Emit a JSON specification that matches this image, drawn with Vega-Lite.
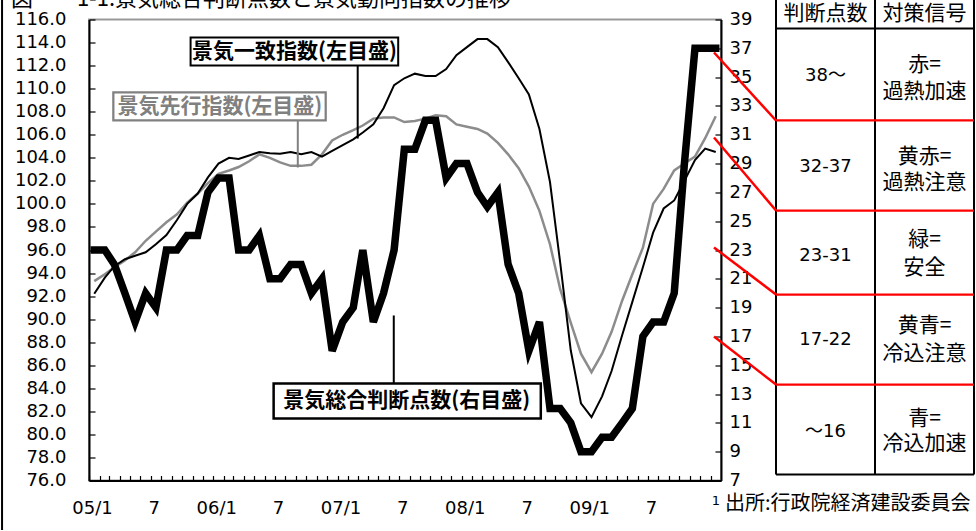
{
  "$schema": "https://vega.github.io/schema/vega-lite/v6.json",
  "background": "white",
  "padding": {"left": 0, "top": -29.5, "right": 0, "bottom": 0},
  "bounds": "flush",
  "spacing": 55,
  "config": {"view": {"stroke": null}, "axis": {"grid": false}},
  "resolve": {"scale": {"x": "independent", "y": "independent", "stroke": "independent", "strokeWidth": "independent", "fill": "independent"}},
  "datasets": {
    "series": [
      {"date": "2005/01/01", "coincident": 92.2, "leading": 93.3, "score": 23},
      {"date": "2005/02/01", "coincident": 93.6, "leading": 93.9, "score": 23},
      {"date": "2005/03/01", "coincident": 94.6, "leading": 94.5, "score": 22},
      {"date": "2005/04/01", "coincident": 95.2, "leading": 95.1, "score": 20},
      {"date": "2005/05/01", "coincident": 95.5, "leading": 95.8, "score": 18},
      {"date": "2005/06/01", "coincident": 95.8, "leading": 96.8, "score": 20},
      {"date": "2005/07/01", "coincident": 96.5, "leading": 97.6, "score": 19},
      {"date": "2005/08/01", "coincident": 97.3, "leading": 98.4, "score": 23},
      {"date": "2005/09/01", "coincident": 98.6, "leading": 99.1, "score": 23},
      {"date": "2005/10/01", "coincident": 100.0, "leading": 100.1, "score": 24},
      {"date": "2005/11/01", "coincident": 100.9, "leading": 100.9, "score": 24},
      {"date": "2005/12/01", "coincident": 102.3, "leading": 101.8, "score": 27},
      {"date": "2006/01/01", "coincident": 103.5, "leading": 102.6, "score": 28},
      {"date": "2006/02/01", "coincident": 104.0, "leading": 102.9, "score": 28},
      {"date": "2006/03/01", "coincident": 103.9, "leading": 103.2, "score": 23},
      {"date": "2006/04/01", "coincident": 104.2, "leading": 103.7, "score": 23},
      {"date": "2006/05/01", "coincident": 104.5, "leading": 104.3, "score": 24},
      {"date": "2006/06/01", "coincident": 104.4, "leading": 104.0, "score": 21},
      {"date": "2006/07/01", "coincident": 104.35, "leading": 103.6, "score": 21},
      {"date": "2006/08/01", "coincident": 104.5, "leading": 103.3, "score": 22},
      {"date": "2006/09/01", "coincident": 104.3, "leading": 103.3, "score": 22},
      {"date": "2006/10/01", "coincident": 104.5, "leading": 103.4, "score": 20},
      {"date": "2006/11/01", "coincident": 104.1, "leading": 104.3, "score": 21},
      {"date": "2006/12/01", "coincident": 104.6, "leading": 105.5, "score": 16},
      {"date": "2007/01/01", "coincident": 105.1, "leading": 106.0, "score": 18},
      {"date": "2007/02/01", "coincident": 105.6, "leading": 106.4, "score": 19},
      {"date": "2007/03/01", "coincident": 106.2, "leading": 106.8, "score": 23},
      {"date": "2007/04/01", "coincident": 106.9, "leading": 107.4, "score": 18},
      {"date": "2007/05/01", "coincident": 108.3, "leading": 107.5, "score": 20},
      {"date": "2007/06/01", "coincident": 110.3, "leading": 107.5, "score": 23},
      {"date": "2007/07/01", "coincident": 110.9, "leading": 107.1, "score": 30},
      {"date": "2007/08/01", "coincident": 111.3, "leading": 107.2, "score": 30},
      {"date": "2007/09/01", "coincident": 111.1, "leading": 107.4, "score": 32},
      {"date": "2007/10/01", "coincident": 111.1, "leading": 107.7, "score": 32},
      {"date": "2007/11/01", "coincident": 111.7, "leading": 107.6, "score": 28},
      {"date": "2007/12/01", "coincident": 112.9, "leading": 106.9, "score": 29},
      {"date": "2008/01/01", "coincident": 113.6, "leading": 106.7, "score": 29},
      {"date": "2008/02/01", "coincident": 114.3, "leading": 106.5, "score": 27},
      {"date": "2008/03/01", "coincident": 114.3, "leading": 106.1, "score": 26},
      {"date": "2008/04/01", "coincident": 113.6, "leading": 105.3, "score": 27},
      {"date": "2008/05/01", "coincident": 112.3, "leading": 104.3, "score": 22},
      {"date": "2008/06/01", "coincident": 110.9, "leading": 103.1, "score": 20},
      {"date": "2008/07/01", "coincident": 109.5, "leading": 101.5, "score": 16},
      {"date": "2008/08/01", "coincident": 106.5, "leading": 99.4, "score": 18},
      {"date": "2008/09/01", "coincident": 101.9, "leading": 96.5, "score": 12},
      {"date": "2008/10/01", "coincident": 94.9, "leading": 92.6, "score": 12},
      {"date": "2008/11/01", "coincident": 87.3, "leading": 89.7, "score": 11},
      {"date": "2008/12/01", "coincident": 82.7, "leading": 87.0, "score": 9},
      {"date": "2009/01/01", "coincident": 81.5, "leading": 85.4, "score": 9},
      {"date": "2009/02/01", "coincident": 83.3, "leading": 87.0, "score": 10},
      {"date": "2009/03/01", "coincident": 85.5, "leading": 88.9, "score": 10},
      {"date": "2009/04/01", "coincident": 88.6, "leading": 91.6, "score": 11},
      {"date": "2009/05/01", "coincident": 91.5, "leading": 93.9, "score": 12},
      {"date": "2009/06/01", "coincident": 94.5, "leading": 96.2, "score": 17},
      {"date": "2009/07/01", "coincident": 97.5, "leading": 100.0, "score": 18},
      {"date": "2009/08/01", "coincident": 99.6, "leading": 101.3, "score": 18},
      {"date": "2009/09/01", "coincident": 100.3, "leading": 102.9, "score": 20},
      {"date": "2009/10/01", "coincident": 102.0, "leading": 103.5, "score": 29},
      {"date": "2009/11/01", "coincident": 103.8, "leading": 104.1, "score": 37},
      {"date": "2009/12/01", "coincident": 104.8, "leading": 105.7, "score": 37},
      {"date": "2010/01/01", "coincident": 104.5, "leading": 107.6, "score": 37}
    ],
    "notes": [
      {"kind": "coinc", "label": "景気一致指数(左目盛)", "date": "2005/10/11", "date2": "2007/06/13", "v": 114.44, "v2": 112.0, "tdate": "2006/08/12", "tv": 113.22, "ldate": "2007/02/14", "lv": 112.0, "lv2": 105.67},
      {"kind": "lead", "label": "景気先行指数(左目盛)", "date": "2005/02/26", "date2": "2006/11/12", "v": 109.67, "v2": 107.24, "tdate": "2006/01/05", "tv": 108.45, "ldate": "2006/08/22", "lv": 107.24, "lv2": 103.16},
      {"kind": "score", "label": "景気総合判断点数(右目盛)", "date": "2006/06/12", "date2": "2008/08/05", "v": 84.42, "v2": 81.38, "tdate": "2007/07/08", "tv": 82.9, "ldate": "2007/05/31", "lv": 84.42, "lv2": 90.32}
    ],
    "frame": [
      {"date": "2004/04/05", "v": 118.5, "v2": 71.7, "tdate": "2004/05/01", "tv": 117.13, "label": "図　　1-1.景気総合判断点数と景気動向指数の推移"}
    ],
    "tablelines": [
      {"u1": 0, "u2": 0, "s1": 42.3, "s2": 7.42, "kind": "black"},
      {"u1": 1, "u2": 1, "s1": 42.3, "s2": 7.42, "kind": "black"},
      {"u1": 2, "u2": 2, "s1": 42.3, "s2": 7.42, "kind": "black"},
      {"u1": 0, "u2": 2, "s1": 38.38, "s2": 38.38, "kind": "black"},
      {"u1": 0, "u2": 2, "s1": 7.42, "s2": 7.42, "kind": "black"},
      {"u1": 0, "u2": 2, "s1": 31.99, "s2": 31.99, "kind": "red"},
      {"u1": 0, "u2": 2, "s1": 25.74, "s2": 25.74, "kind": "red"},
      {"u1": 0, "u2": 2, "s1": 19.91, "s2": 19.91, "kind": "red"},
      {"u1": 0, "u2": 2, "s1": 13.66, "s2": 13.66, "kind": "red"},
      {"u1": -0.626, "u2": 0, "s1": 36.71, "s2": 31.99, "kind": "diag"},
      {"u1": -0.626, "u2": 0, "s1": 30.81, "s2": 25.74, "kind": "diag"},
      {"u1": -0.626, "u2": 0, "s1": 23.17, "s2": 19.91, "kind": "diag"},
      {"u1": -0.626, "u2": 0, "s1": 16.99, "s2": 13.66, "kind": "diag"}
    ],
    "tablenums": [
      {"u": 0.5, "s": 35.11, "label": "38～"},
      {"u": 0.5, "s": 28.73, "label": "32-37"},
      {"u": 0.5, "s": 22.55, "label": "23-31"},
      {"u": 0.5, "s": 16.72, "label": "17-22"},
      {"u": 0.5, "s": 10.4, "label": "～16"}
    ],
    "tablecjk": [
      {"u": 0.5, "s": 41.01, "label": "景気総合"},
      {"u": 0.5, "s": 39.35, "label": "判断点数"},
      {"u": 1.5, "s": 41.01, "label": "景気"},
      {"u": 1.5, "s": 39.35, "label": "対策信号"},
      {"u": 1.5, "s": 35.81, "label": "赤="},
      {"u": 1.5, "s": 34.0, "label": "過熱加速"},
      {"u": 1.5, "s": 29.49, "label": "黄赤="},
      {"u": 1.5, "s": 27.62, "label": "過熱注意"},
      {"u": 1.5, "s": 23.66, "label": "緑="},
      {"u": 1.5, "s": 21.78, "label": "安全"},
      {"u": 1.5, "s": 17.69, "label": "黄青="},
      {"u": 1.5, "s": 15.75, "label": "冷込注意"},
      {"u": 1.5, "s": 11.3, "label": "青="},
      {"u": 1.5, "s": 9.5, "label": "冷込加速"}
    ],
    "footnote": [
      {"u": -0.515, "s": 5.4, "label": "出所:行政院経済建設委員会"}
    ],
    "footmark": [
      {"u": -0.606, "s": 5.61, "label": "1"}
    ]
  },
  "hconcat": [
    {
      "width": 632,
      "height": 461,
      "view": {"stroke": "#999999", "strokeWidth": 2},
      "resolve": {"scale": {"y": "independent"}},
      "layer": [
        {
          "data": {"name": "series"},
          "mark": {"type": "line", "color": "#8c8c8c", "strokeWidth": 2.5},
          "encoding": {
            "x": {"field": "date", "type": "temporal", "title": null,
              "scale": {"domain": [{"year": 2004, "month": 12, "date": 16, "hours": 12}, {"year": 2010, "month": 1, "date": 16, "hours": 12}]},
              "axis": {"tickCount": {"interval": "month", "step": 1}, "tickOffset": -5.2, "labelOffset": 3,
                "labelExpr": "month(datum.value) == 0 ? (year(datum.value) == 2010 ? '' : timeFormat(datum.value, '%y') + '/1') : (month(datum.value) == 6 ? '7' : '')",
                "labelOverlap": false, "labelFlush": false, "labelBound": false, "labelFont": "DejaVu Sans", "labelFontSize": 18, "labelColor": "#000000",
                "labelPadding": 24, "tickSize": -5, "tickColor": "#000000", "tickWidth": 1.2, "domainColor": "#000000", "domainWidth": 2}},
            "y": {"field": "leading", "type": "quantitative", "title": null,
              "scale": {"domain": [76, 116], "nice": false, "zero": false},
              "axis": {"orient": "left", "values": [76, 78, 80, 82, 84, 86, 88, 90, 92, 94, 96, 98, 100, 102, 104, 106, 108, 110, 112, 114, 116],
                "format": ".1f", "labelFont": "DejaVu Sans", "labelFontSize": 18, "labelColor": "#000000",
                "tickSize": -6, "tickColor": "#000000", "tickWidth": 1.2, "domainColor": "#000000", "domainWidth": 2, "labelPadding": 29}}
          }
        },
        {
          "data": {"name": "series"},
          "mark": {"type": "line", "color": "#000000", "strokeWidth": 2},
          "encoding": {
            "x": {"field": "date", "type": "temporal", "title": null,
              "scale": {"domain": [{"year": 2004, "month": 12, "date": 16, "hours": 12}, {"year": 2010, "month": 1, "date": 16, "hours": 12}]}},
            "y": {"field": "coincident", "type": "quantitative", "axis": null, "scale": {"domain": [76, 116], "nice": false, "zero": false}}
          }
        },
        {
          "data": {"name": "notes"},
          "mark": {"type": "rule", "strokeWidth": 2, "clip": false},
          "encoding": {
            "x": {"field": "ldate", "type": "temporal", "title": null,
              "scale": {"domain": [{"year": 2004, "month": 12, "date": 16, "hours": 12}, {"year": 2010, "month": 1, "date": 16, "hours": 12}]}},
            "y": {"field": "lv", "type": "quantitative", "axis": null, "scale": {"domain": [76, 116], "nice": false, "zero": false}},
            "y2": {"field": "lv2"},
            "stroke": {"field": "kind", "type": "nominal", "legend": null, "scale": {"domain": ["coinc", "lead", "score"], "range": ["#000000", "#808080", "#000000"]}}
          }
        },
        {
          "data": {"name": "notes"},
          "mark": {"type": "rect", "fill": "white", "clip": false},
          "encoding": {
            "x": {"field": "date", "type": "temporal", "title": null,
              "scale": {"domain": [{"year": 2004, "month": 12, "date": 16, "hours": 12}, {"year": 2010, "month": 1, "date": 16, "hours": 12}]}},
            "x2": {"field": "date2"},
            "y": {"field": "v", "type": "quantitative", "axis": null, "scale": {"domain": [76, 116], "nice": false, "zero": false}},
            "y2": {"field": "v2"},
            "stroke": {"field": "kind", "type": "nominal", "legend": null, "scale": {"domain": ["coinc", "lead", "score"], "range": ["#000000", "#808080", "#000000"]}},
            "strokeWidth": {"field": "kind", "type": "nominal", "legend": null, "scale": {"domain": ["coinc", "lead", "score"], "range": [2, 2.5, 3.5]}}
          }
        },
        {
          "data": {"name": "notes"},
          "mark": {"type": "text", "font": "Noto Sans CJK JP", "fontWeight": "bold", "fontSize": 21, "align": "center", "baseline": "middle", "clip": false},
          "encoding": {
            "x": {"field": "tdate", "type": "temporal", "title": null,
              "scale": {"domain": [{"year": 2004, "month": 12, "date": 16, "hours": 12}, {"year": 2010, "month": 1, "date": 16, "hours": 12}]}},
            "y": {"field": "tv", "type": "quantitative", "axis": null, "scale": {"domain": [76, 116], "nice": false, "zero": false}},
            "text": {"field": "label"},
            "fill": {"field": "kind", "type": "nominal", "legend": null, "scale": {"domain": ["coinc", "lead", "score"], "range": ["#000000", "#808080", "#000000"]}}
          }
        },
        {
          "data": {"name": "frame"},
          "mark": {"type": "rule", "strokeWidth": 2, "color": "#000000", "clip": false},
          "encoding": {
            "x": {"field": "date", "type": "temporal", "title": null,
              "scale": {"domain": [{"year": 2004, "month": 12, "date": 16, "hours": 12}, {"year": 2010, "month": 1, "date": 16, "hours": 12}]}},
            "y": {"field": "v", "type": "quantitative", "axis": null, "scale": {"domain": [76, 116], "nice": false, "zero": false}},
            "y2": {"field": "v2"}
          }
        },
        {
          "data": {"name": "frame"},
          "mark": {"type": "text", "font": "Noto Sans CJK JP", "fontSize": 22, "align": "left", "baseline": "alphabetic", "color": "#000000", "clip": false},
          "encoding": {
            "x": {"field": "tdate", "type": "temporal", "title": null,
              "scale": {"domain": [{"year": 2004, "month": 12, "date": 16, "hours": 12}, {"year": 2010, "month": 1, "date": 16, "hours": 12}]}},
            "y": {"field": "tv", "type": "quantitative", "axis": null, "scale": {"domain": [76, 116], "nice": false, "zero": false}},
            "text": {"field": "label"}
          }
        },
        {
          "data": {"name": "series"},
          "mark": {"type": "line", "color": "#000000", "strokeWidth": 7.5, "strokeCap": "square"},
          "encoding": {
            "x": {"field": "date", "type": "temporal", "title": null,
              "scale": {"domain": [{"year": 2004, "month": 12, "date": 16, "hours": 12}, {"year": 2010, "month": 1, "date": 16, "hours": 12}]}},
            "y": {"field": "score", "type": "quantitative", "title": null,
              "scale": {"domain": [7, 39], "nice": false, "zero": false},
              "axis": {"orient": "right", "values": [7, 9, 11, 13, 15, 17, 19, 21, 23, 25, 27, 29, 31, 33, 35, 37, 39],
                "labelFont": "DejaVu Sans", "labelFontSize": 18, "labelColor": "#000000",
                "tickSize": -6, "tickColor": "#000000", "tickWidth": 1.2, "domainColor": "#000000", "domainWidth": 2, "labelPadding": 14}}
          }
        }
      ]
    },
    {
      "width": 198,
      "height": 461,
      "layer": [
        {
          "data": {"name": "tablelines"},
          "mark": {"type": "rule", "clip": false},
          "encoding": {
            "x": {"field": "u1", "type": "quantitative", "axis": null, "scale": {"domain": [0, 2], "nice": false, "zero": false}},
            "x2": {"field": "u2"},
            "y": {"field": "s1", "type": "quantitative", "axis": null, "scale": {"domain": [7, 39], "nice": false, "zero": false}},
            "y2": {"field": "s2"},
            "stroke": {"field": "kind", "type": "nominal", "legend": null, "scale": {"domain": ["black", "red", "diag"], "range": ["#000000", "#ff0000", "#ff0000"]}},
            "strokeWidth": {"field": "kind", "type": "nominal", "legend": null, "scale": {"domain": ["black", "red", "diag"], "range": [2, 2.5, 1.5]}}
          }
        },
        {
          "data": {"name": "tablenums"},
          "mark": {"type": "text", "font": "DejaVu Sans, Noto Sans CJK JP", "fontSize": 18, "color": "#000000", "align": "center", "baseline": "middle", "clip": false},
          "encoding": {
            "x": {"field": "u", "type": "quantitative", "axis": null, "scale": {"domain": [0, 2], "nice": false, "zero": false}},
            "y": {"field": "s", "type": "quantitative", "axis": null, "scale": {"domain": [7, 39], "nice": false, "zero": false}},
            "text": {"field": "label"}
          }
        },
        {
          "data": {"name": "tablecjk"},
          "mark": {"type": "text", "font": "Noto Sans CJK JP", "fontSize": 21, "color": "#000000", "align": "center", "baseline": "middle", "clip": false},
          "encoding": {
            "x": {"field": "u", "type": "quantitative", "axis": null, "scale": {"domain": [0, 2], "nice": false, "zero": false}},
            "y": {"field": "s", "type": "quantitative", "axis": null, "scale": {"domain": [7, 39], "nice": false, "zero": false}},
            "text": {"field": "label"}
          }
        },
        {
          "data": {"name": "footnote"},
          "mark": {"type": "text", "font": "Noto Sans CJK JP", "fontSize": 20, "color": "#000000", "align": "left", "baseline": "middle", "clip": false},
          "encoding": {
            "x": {"field": "u", "type": "quantitative", "axis": null, "scale": {"domain": [0, 2], "nice": false, "zero": false}},
            "y": {"field": "s", "type": "quantitative", "axis": null, "scale": {"domain": [7, 39], "nice": false, "zero": false}},
            "text": {"field": "label"}
          }
        },
        {
          "data": {"name": "footmark"},
          "mark": {"type": "text", "font": "DejaVu Sans", "fontSize": 13, "color": "#000000", "align": "center", "baseline": "middle", "clip": false},
          "encoding": {
            "x": {"field": "u", "type": "quantitative", "axis": null, "scale": {"domain": [0, 2], "nice": false, "zero": false}},
            "y": {"field": "s", "type": "quantitative", "axis": null, "scale": {"domain": [7, 39], "nice": false, "zero": false}},
            "text": {"field": "label"}
          }
        }
      ]
    }
  ]
}
